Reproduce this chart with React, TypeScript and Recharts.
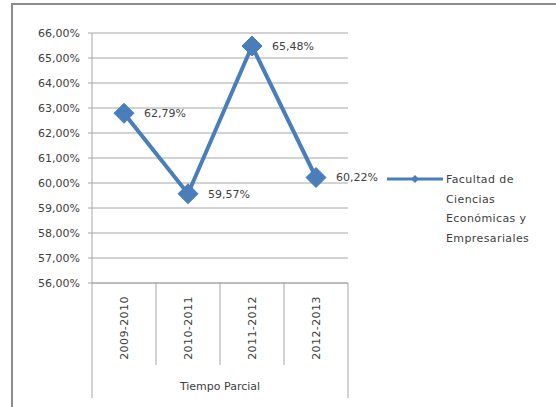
import { LineChart, Line, XAxis, YAxis, CartesianGrid, Legend, LabelList } from 'recharts';

const periods = ['2009-2010', '2010-2011', '2011-2012', '2012-2013'];
const facultad = [62.79, 59.57, 65.48, 60.22];
const yTicks = [56, 57, 58, 59, 60, 61, 62, 63, 64, 65, 66];
const groupLabel = 'Tiempo Parcial';
const seriesName = 'Facultad de Ciencias Económicas y Empresariales';
const legendLines = ['Facultad de', 'Ciencias', 'Económicas y', 'Empresariales'];

const data = periods.map((p, i) => ({ period: p, value: facultad[i] }));

const BLUE = '#4a7ebb';
const TEXT = '#404040';
const GRID = '#a6a6a6';
const FONT = '"DejaVu Sans", sans-serif';

const pct = (v: number) => v.toFixed(2).replace('.', ',') + '%';

function Diamond(props: any) {
  const { cx, cy } = props;
  if (cx == null || cy == null) return null;
  const r = 10;
  return (
    <polygon
      points={`${cx},${cy - r} ${cx + r},${cy} ${cx},${cy + r} ${cx - r},${cy}`}
      fill={BLUE}
      stroke={BLUE}
    />
  );
}

function CategoryTick(props: any) {
  const { x, y, payload, index } = props;
  const half = payload?.offset ?? 32;
  const last = index === periods.length - 1;
  return (
    <g>
      <line x1={x - half} y1={y} x2={x - half} y2={y + (index === 0 ? 115 : 82)} stroke={GRID} />
      {last && <line x1={x + half} y1={y} x2={x + half} y2={y + 115} stroke={GRID} />}
      <text
        x={0}
        y={0}
        transform={`translate(${x + 4},${y + 45}) rotate(-90)`}
        textAnchor="middle"
        fill={TEXT}
        fontSize={11}
        fontFamily={FONT}
        letterSpacing={0.4}
      >
        {payload.value}
      </text>
    </g>
  );
}

function LegendBox() {
  return (
    <div style={{ position: 'relative', width: 170, height: 90, fontFamily: FONT, fontSize: 11, color: TEXT }}>
      <svg width={60} height={12} style={{ position: 'absolute', left: 0, top: 3 }}>
        <line x1={0} y1={6} x2={56} y2={6} stroke={BLUE} strokeWidth={3} />
        <polygon points="28,2 32,6 28,10 24,6" fill={BLUE} />
      </svg>
      <div style={{ position: 'absolute', left: 59, top: 0, lineHeight: '19.5px', letterSpacing: 0.4, whiteSpace: 'nowrap' }}>
        {legendLines.map((l) => (
          <div key={l}>{l}</div>
        ))}
      </div>
    </div>
  );
}

export default function App() {
  return (
    <div style={{ position: 'absolute', left: 0, top: 0, width: 556, height: 407, background: '#fff' }}>
      <div
        style={{
          position: 'absolute',
          left: 11,
          top: 3,
          width: 545,
          height: 404,
          borderTop: '2px solid #8c8c8c',
          borderLeft: '2px solid #8c8c8c',
          boxSizing: 'border-box',
        }}
      />
      <LineChart
        width={556}
        height={407}
        data={data}
        margin={{ top: 33, right: 208, bottom: 0, left: 0 }}
        style={{ position: 'absolute', left: 0, top: 0 }}
      >
        <CartesianGrid vertical={false} stroke={GRID} />
        <XAxis
          dataKey="period"
          scale="band"
          interval={0}
          height={124}
          tickLine={false}
          tickSize={0}
          tickMargin={0}
          axisLine={{ stroke: GRID }}
          tick={<CategoryTick />}
          label={{ value: groupLabel, position: 'insideBottom', offset: 17, fill: TEXT, fontSize: 11, fontFamily: FONT }}
        />
        <YAxis
          domain={[56, 66]}
          ticks={yTicks}
          width={92}
          tickSize={4}
          tickMargin={8}
          tickFormatter={pct}
          axisLine={{ stroke: GRID }}
          tickLine={{ stroke: GRID }}
          tick={{ fill: TEXT, fontSize: 11, fontFamily: FONT }}
        />
        <Legend
          layout="horizontal"
          verticalAlign="middle"
          align="center"
          content={() => <LegendBox />}
          wrapperStyle={{ left: 387, top: 170, width: 170 }}
        />
        <Line
          type="linear"
          dataKey="value"
          name={seriesName}
          stroke={BLUE}
          strokeWidth={4}
          dot={<Diamond />}
          activeDot={false}
          isAnimationActive={false}
        >
          <LabelList
            dataKey="value"
            position="right"
            offset={20}
            formatter={(v: any) => pct(Number(v))}
            fill={TEXT}
            fontSize={11}
            fontFamily={FONT}
          />
        </Line>
      </LineChart>
    </div>
  );
}
